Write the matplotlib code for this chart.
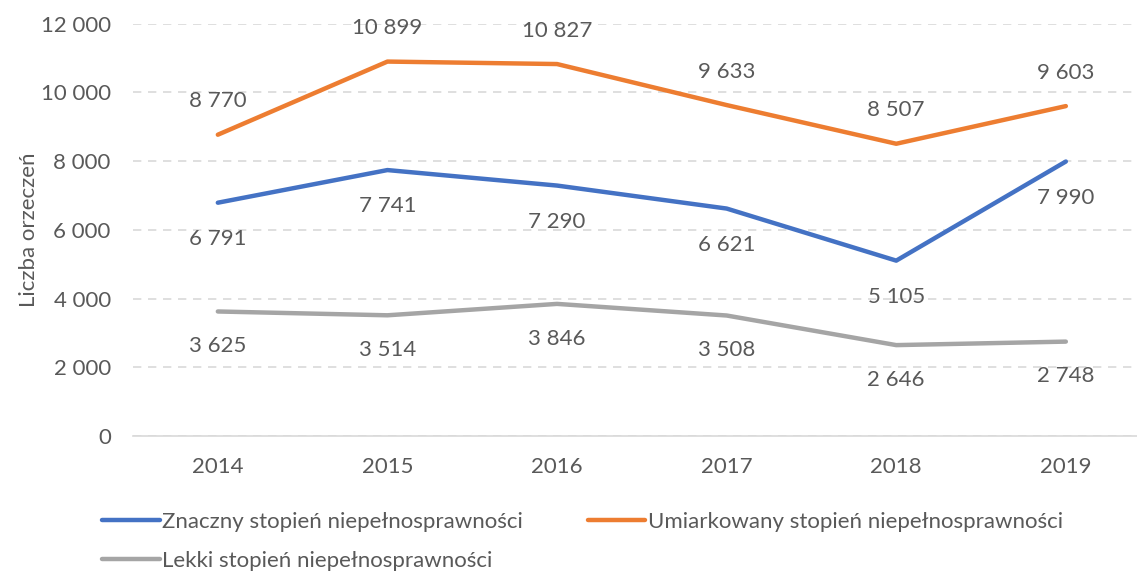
import matplotlib.pyplot as plt
from matplotlib.ticker import FuncFormatter

plt.rcParams['font.family'] = ['Lato', 'DejaVu Sans']

# dane
years = ['2014', '2015', '2016', '2017', '2018', '2019']
znaczny = [6791, 7741, 7290, 6621, 5105, 7990]
umiarkowany = [8770, 10899, 10827, 9633, 8507, 9603]
lekki = [3625, 3514, 3846, 3508, 2646, 2748]

labels = ['Znaczny stopień niepełnosprawności',
          'Umiarkowany stopień niepełnosprawności',
          'Lekki stopień niepełnosprawności']
colors = ['#4472C4', '#ED7D31', '#A5A5A5']
txt_col = '#595959'
fs = 16


def fmt(v):
    return f'{int(v):,}'.replace(',', ' ')


fig = plt.figure(figsize=(11.37, 5.75), dpi=100)
ax = fig.add_axes([0.117, 0.2417, 0.895, 0.717])

x = list(range(len(years)))
series = [znaczny, umiarkowany, lekki]
offsets = [-26, 24, -25]   # etykiety: pod / nad / pod
lines = []
for vals, col, lab, off in zip(series, colors, labels, offsets):
    ln, = ax.plot(x, vals, color=col, lw=3.2, solid_capstyle='round', label=lab, zorder=3)
    lines.append(ln)
    for xi, v in zip(x, vals):
        ax.annotate(fmt(v), (xi, v), xytext=(0, off), textcoords='offset points',
                    ha='center', va='center', fontsize=fs, color=txt_col)

ax.set_xlim(-0.5, len(years) - 0.5)
ax.set_ylim(0, 12000)
ax.set_yticks(range(0, 12001, 2000))
ax.yaxis.set_major_formatter(FuncFormatter(lambda v, p: fmt(v)))
ax.set_xticks(x)
ax.set_xticklabels(years)

ax.grid(axis='y', color='#D9D9D9', linestyle=(0, (5, 4)), lw=1.2)
ax.set_axisbelow(True)
for s in ['top', 'right', 'left']:
    ax.spines[s].set_visible(False)
ax.spines['bottom'].set_color('#D9D9D9')
ax.spines['bottom'].set_linewidth(1.2)
ax.tick_params(axis='both', length=0, labelsize=fs, labelcolor=txt_col)
ax.tick_params(axis='x', pad=15)
ax.tick_params(axis='y', pad=16)

ax.set_ylabel('Liczba orzeczeń', fontsize=fs, color=txt_col, labelpad=1)

# kolejnosc w legendzie: kolumnami
fig.legend(handles=[lines[0], lines[2], lines[1]], loc='upper left',
           bbox_to_anchor=(0.09, 0.11), ncol=2,
           frameon=False, fontsize=fs, handlelength=2.6, handletextpad=0.1,
           columnspacing=2.9, labelspacing=0.85, labelcolor=txt_col,
           borderaxespad=0, borderpad=0)

fig.savefig('out.png', dpi=100)
